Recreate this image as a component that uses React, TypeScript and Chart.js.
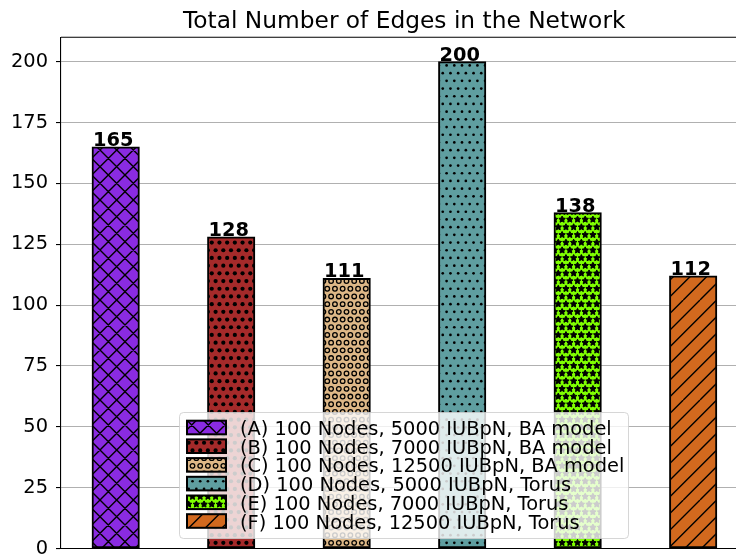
import React, { useEffect, useRef } from "react";
import { Chart, registerables } from "chart.js";

Chart.register(...registerables);

const chartTitle = "Total Number of Edges in the Network";
const categories = ["A", "B", "C", "D", "E", "F"];
const values = [165, 128, 111, 200, 138, 112];
const legendLabels = [
  "(A) 100 Nodes, 5000 IUBpN, BA model",
  "(B) 100 Nodes, 7000 IUBpN, BA model",
  "(C) 100 Nodes, 12500 IUBpN, BA model",
  "(D) 100 Nodes, 5000 IUBpN, Torus",
  "(E) 100 Nodes, 7000 IUBpN, Torus",
  "(F) 100 Nodes, 12500 IUBpN, Torus",
];
const barColors = ["#8A2BE2", "#A52A2A", "#DEB887", "#5F9EA0", "#7FFF00", "#D2691E"];
const hatches = ["x", "o", "O", ".", "*", "/"];
const yTicks = [0, 25, 50, 75, 100, 125, 150, 175, 200];

const FONT = "'DejaVu Sans', 'Liberation Sans', sans-serif";

function drawShape(g: CanvasRenderingContext2D, hatch: string, cx: number, cy: number) {
  if (hatch === "o") {
    g.beginPath();
    g.arc(cx, cy, 2.1, 0, Math.PI * 2);
    g.fill();
  } else if (hatch === "O") {
    g.beginPath();
    g.arc(cx, cy, 2.3, 0, Math.PI * 2);
    g.lineWidth = 1.3;
    g.stroke();
  } else if (hatch === ".") {
    g.beginPath();
    g.arc(cx, cy, 1.35, 0, Math.PI * 2);
    g.fill();
  } else if (hatch === "*") {
    const R = 3.4;
    const r = 1.7;
    g.beginPath();
    for (let k = 0; k < 10; k++) {
      const ang = -Math.PI / 2 + (k * Math.PI) / 5;
      const rad = k % 2 === 0 ? R : r;
      const px = cx + rad * Math.cos(ang);
      const py = cy + rad * Math.sin(ang);
      if (k === 0) g.moveTo(px, py);
      else g.lineTo(px, py);
    }
    g.closePath();
    g.fill();
    g.lineWidth = 1.0;
    g.stroke();
  }
}

function makePattern(ctx: CanvasRenderingContext2D, color: string, hatch: string): CanvasPattern | string {
  const c = document.createElement("canvas");
  const lineHatch = hatch === "x" || hatch === "/";
  const W = lineHatch ? 100 : 77;
  const H = W;
  c.width = W;
  c.height = H;
  const g = c.getContext("2d");
  if (!g) return color;
  g.fillStyle = color;
  g.fillRect(0, 0, W, H);
  g.strokeStyle = "#000";
  g.fillStyle = "#000";
  if (lineHatch) {
    const s = 100 / 6;
    g.lineWidth = 1.4;
    g.beginPath();
    for (let k = -7; k <= 13; k++) {
      g.moveTo(k * s, 100);
      g.lineTo(k * s + 100, 0);
      if (hatch === "x") {
        g.moveTo(k * s, 0);
        g.lineTo(k * s + 100, 100);
      }
    }
    g.stroke();
  } else {
    const s = 7.7;
    for (let r = 0; r < 10; r++) {
      for (let col = 0; col < 10; col++) {
        const cx = col * s + ((r % 2) * s) / 2;
        const cy = r * s + s / 2;
        for (const dx of [-W, 0, W]) {
          for (const dy of [-H, 0, H]) {
            drawShape(g, hatch, cx + dx, cy + dy);
          }
        }
      }
    }
  }
  return ctx.createPattern(c, "repeat") || color;
}

export default function App() {
  const ref = useRef<HTMLCanvasElement | null>(null);

  useEffect(() => {
    const canvas = ref.current;
    if (!canvas) return;
    const ctx0 = canvas.getContext("2d");
    if (!ctx0) return;
    const patterns = categories.map((_, i) => makePattern(ctx0, barColors[i], hatches[i]));

    const overlay = {
      id: "overlay",
      afterDatasetsDraw(chart: any) {
        const ctx = chart.ctx as CanvasRenderingContext2D;
        const area = chart.chartArea;
        const xs = chart.scales.x;
        const ys = chart.scales.y;
        ctx.save();
        // spines (top and bottom)
        ctx.strokeStyle = "#000";
        ctx.lineWidth = 1.1;
        ctx.beginPath();
        ctx.moveTo(area.left, area.top);
        ctx.lineTo(area.right, area.top);
        ctx.moveTo(area.left, area.bottom);
        ctx.lineTo(area.right, area.bottom);
        ctx.stroke();
        // value labels
        ctx.fillStyle = "#000";
        ctx.font = `bold 19.4px ${FONT}`;
        ctx.textAlign = "center";
        ctx.textBaseline = "alphabetic";
        values.forEach((v, i) => {
          const px = xs.getPixelForValue(i) - 2.5;
          const py = ys.getPixelForValue(v) - 1;
          ctx.fillText(String(v), px, py);
        });
        ctx.restore();
      },
      afterDraw(chart: any) {
        const ctx = chart.ctx as CanvasRenderingContext2D;
        const area = chart.chartArea;
        ctx.save();
        // title
        ctx.fillStyle = "#000";
        ctx.font = `23.3px ${FONT}`;
        ctx.textAlign = "center";
        ctx.textBaseline = "alphabetic";
        ctx.fillText(chartTitle, (area.left + area.right) / 2, 28);
        // legend
        const lx = 179.5, ly = 412.5, lw = 449, lh = 126, rr = 4;
        ctx.beginPath();
        ctx.moveTo(lx + rr, ly);
        ctx.lineTo(lx + lw - rr, ly);
        ctx.quadraticCurveTo(lx + lw, ly, lx + lw, ly + rr);
        ctx.lineTo(lx + lw, ly + lh - rr);
        ctx.quadraticCurveTo(lx + lw, ly + lh, lx + lw - rr, ly + lh);
        ctx.lineTo(lx + rr, ly + lh);
        ctx.quadraticCurveTo(lx, ly + lh, lx, ly + lh - rr);
        ctx.lineTo(lx, ly + rr);
        ctx.quadraticCurveTo(lx, ly, lx + rr, ly);
        ctx.closePath();
        ctx.fillStyle = "rgba(255,255,255,0.8)";
        ctx.fill();
        ctx.strokeStyle = "rgba(204,204,204,0.8)";
        ctx.lineWidth = 1;
        ctx.stroke();
        const pitch = 18.7;
        legendLabels.forEach((label, i) => {
          const py = 420.7 + i * pitch;
          ctx.fillStyle = patterns[i] as any;
          ctx.fillRect(187, py, 39, 13.6);
          ctx.strokeStyle = "#000";
          ctx.lineWidth = 2;
          ctx.strokeRect(187, py, 39, 13.6);
          ctx.fillStyle = "#000";
          ctx.font = `19.4px ${FONT}`;
          ctx.textAlign = "left";
          ctx.fillText(label, 240, 435 + i * pitch);
        });
        ctx.restore();
      },
    };

    const chart = new Chart(canvas, {
      type: "bar",
      data: {
        datasets: [
          {
            label: "Edges",
            data: values.map((v, i) => ({ x: i, y: v })),
            backgroundColor: patterns as any,
            borderColor: "#000",
            borderWidth: 2,
            borderSkipped: false,
            barThickness: 47.5,
          },
        ],
      },
      options: {
        responsive: false,
        animation: false,
        devicePixelRatio: 1,
        layout: { padding: { left: 0, top: 37.3, right: 12.5, bottom: 8.5 } },
        plugins: {
          legend: { display: false },
          title: { display: false },
          tooltip: { enabled: false },
        },
        scales: {
          x: {
            type: "linear",
            min: -0.4736,
            max: 5.4704,
            offset: false,
            display: false,
          },
          y: {
            min: 0,
            max: 210,
            afterBuildTicks: (s: any) => {
              s.ticks = yTicks.map((v) => ({ value: v }));
            },
            afterFit: (s: any) => {
              s.width = 61;
              s.paddingTop = 0;
              s.paddingBottom = 0;
            },
            grid: {
              color: "#b0b0b0",
              lineWidth: 1.1,
              tickColor: "#000",
              tickLength: 5,
              drawTicks: true,
            },
            border: { color: "#000", width: 1.1 },
            ticks: {
              color: "#000",
              font: { family: FONT, size: 19.4 },
              padding: 8,
            },
          },
        },
      },
      plugins: [overlay],
    } as any);

    return () => {
      chart.destroy();
    };
  }, []);

  return (
    <div
      style={{
        position: "fixed",
        left: 0,
        top: 0,
        width: 736,
        height: 557,
        overflow: "hidden",
        background: "#fff",
      }}
    >
      <canvas ref={ref} width={760} height={557} style={{ display: "block" }} />
    </div>
  );
}
